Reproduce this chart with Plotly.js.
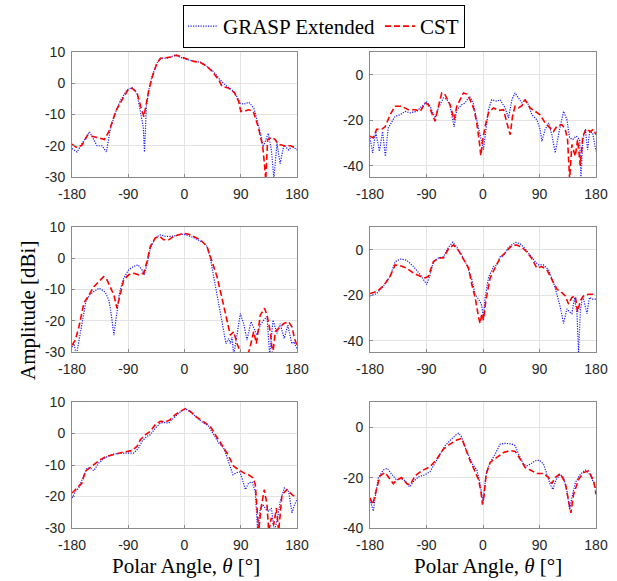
<!DOCTYPE html>
<html>
<head>
<meta charset="utf-8">
<script src="https://cdn.plot.ly/plotly-3.0.1.min.js"></script>
<style>html,body{margin:0;padding:0;background:#fff}#chart{width:617px;height:581px}</style>
</head>
<body>
<div id="chart"></div>
<script>
// ---------- Data (angles in degrees, amplitude in dBi) ----------
// Top-left
const tlGraspX = [-180,-172,-164,-152,-140,-132,-125,-119,-111,-103,-92,-84,-76,-71,-66,-64,-61,-57,-52,-44,-39,-28,-15,-1,15,25,36,47,57,65,76,84,89,95,103,111,119,126,134,139,143,148,153,159,167,172,180];
const tlGraspY = [-20.9,-22,-19.3,-15.5,-20,-20,-22,-15,-9.6,-5.7,-2.1,-1.4,-3.2,-8.5,-14,-22,-7.5,-2.1,2.2,6.5,8,8,9,7.9,7,6.8,5.4,3.6,1.1,-0.5,-2.1,-4.3,-6.4,-6.7,-6.1,-8,-14,-20.3,-16,-21.4,-30.5,-19.3,-25.7,-19.8,-21.4,-20,-21.4];
const tlCstX = [-180,-172,-164,-155,-145,-135,-128,-120,-110,-100,-90,-84,-76,-70,-65,-62,-57,-50,-44,-38,-30,-20,-13,0,15,25,36,46,55,60,70,80,87,90,95,102,110,118,125,128,130,133,140,145,150,160,170,180];
const tlCstY = [-19.5,-20.6,-19.8,-16.6,-17.1,-17.7,-18,-15,-9,-5.3,-2,-1.6,-3,-7.5,-10.7,-7.5,-2,3,6.5,8,8.2,8.4,9,8,7,6.7,5.4,3.4,1,-1,-1.5,-3,-6,-9,-9,-8.5,-9,-14,-20,-26,-31,-18,-17.3,-18,-19.5,-20,-20,-21];

// Top-right
const trGraspX = [-180,-175.7,-171,-165,-160,-155.5,-151,-140,-132,-124,-116,-105.6,-97.6,-89.6,-84.3,-76.3,-71,-63,-57.7,-52.4,-46,-41.8,-33.8,-28.5,-21.6,-16.3,-10,-5.6,-1.9,0.7,4,8.7,14,22,27.3,35.3,40.6,46,51,56.6,62,67,72.5,77.8,85.8,91,93.8,99,104.4,109.7,115,122,128.4,133.7,138,143,148.5,154,156,159,163,166.6,170,174.6,180];
const trGraspY = [-27.8,-34.4,-25,-33.7,-25,-35.9,-23.4,-18.3,-17.6,-16.1,-16.8,-16.1,-13.9,-12,-13.9,-19,-14.6,-10.2,-10.7,-13.9,-23,-15.4,-13.2,-12.4,-9.5,-11.7,-19.8,-25,-28.5,-33,-25.6,-15.4,-11,-11.7,-11,-14.6,-19,-11,-8,-10.2,-12.4,-11,-13.2,-17.6,-19.8,-24,-29.3,-24,-21.2,-26.4,-34.4,-24,-16.1,-19.8,-27.8,-28.5,-27,-28.5,-46,-28.5,-24,-33,-25,-25.6,-33.7];
const trCstX = [-180,-174.7,-169.4,-161,-156,-148,-140,-129.5,-118.9,-108,-100,-92.3,-87,-81.6,-76.3,-71,-65.7,-60.4,-52.4,-46,-41.8,-36.5,-31.1,-25.8,-20.5,-14.1,-10,-5.6,-3.5,-0.3,3.4,8.7,16.7,24.7,32.7,38,43.3,47,51,56.6,62,67,75,83,91,99,107,112.3,117.6,125.6,131,134.7,138,141.6,147,150.7,155,159,164.5,171,176,180];
const trCstY = [-27,-27.8,-24,-23.9,-23,-17.6,-13.9,-13.9,-15.4,-15.4,-16.1,-12.4,-13.2,-16.8,-20.5,-13.9,-8,-8.8,-13.2,-19.8,-13.9,-11,-8,-8.5,-11,-15.4,-21.2,-30,-35.6,-28.5,-22.7,-16.8,-14.6,-15.7,-15.4,-21.2,-26.4,-18.3,-13.9,-14.6,-13.6,-11,-14.6,-16.1,-17.6,-21.2,-23.4,-25,-22.7,-22,-24,-28.5,-46,-30.7,-35.9,-28.5,-40,-27,-23.9,-25,-24,-26.4];

// Middle-left
const mlGraspX = [-180,-177,-173,-169,-164,-157.6,-150.7,-142.7,-137.3,-132,-126.7,-121,-117,-113,-109,-103.7,-97.3,-89.3,-81.3,-74.4,-68,-64.3,-60,-54.7,-46.7,-38.7,-30.7,-20,-9.3,-1.3,9.3,20,30.7,36,41.3,46.7,52,57.3,62.7,66.4,70.7,73.3,76,78.7,84,89.3,94.7,100,106.4,110.7,116,121.3,126.7,132,136.3,141.6,148,153,159.5,165.3,171.7,175.5,180];
const mlGraspY = [-28.4,-27.3,-31,-26.8,-20.3,-13.7,-11.5,-10.5,-9.6,-10.1,-10.9,-13.4,-18.2,-24.6,-19.3,-10.7,-6.4,-3.7,-2.6,-2.1,-3.7,-5.3,-2.1,3.2,6.5,7.5,7,7,7.5,7.7,7,6.1,4.9,3.8,0,-5.9,-11.2,-17.1,-23.5,-27.3,-25.7,-27.3,-25.2,-31,-24.6,-17.7,-20.9,-26.2,-20.3,-22.5,-24.6,-21.4,-19.8,-18.7,-31,-19.8,-24,-20.9,-25.7,-21.4,-27.3,-26.8,-29];
const mlCstX = [-180,-174.7,-169,-161,-153,-145,-137.3,-129.3,-124,-119,-113,-108,-103.7,-97.3,-89.3,-81.3,-73.3,-65.3,-60,-54.7,-46.7,-39.7,-33.3,-25.3,-17.3,-6.7,-1.3,6.7,14.7,25.3,36,44,52,60,68,73.3,78.7,84,89.3,97.3,104.3,110.7,115,121.3,128,132,137.3,141,145.3,150.7,158.7,166.7,172,176,180];
const mlCstY = [-27.8,-26.2,-22,-14.4,-11.8,-9.1,-7.5,-5.9,-6.9,-9.1,-11.8,-16,-12.3,-6.9,-5.3,-4.8,-5.3,-4.8,-1,3.8,6.5,7,5.9,5.9,7,7.7,8,7.7,7,5.9,3.8,-1,-5.9,-12.8,-19.3,-24.6,-23.5,-27.3,-30,-33,-29,-23.5,-27.3,-18.2,-16,-18.2,-23.5,-31,-23.5,-22.5,-20.9,-20.3,-22,-25.7,-27.8];

// Middle-right
const mrGraspX = [-180,-169.4,-158.7,-148,-140,-132,-121.5,-110.8,-100,-92.3,-89.6,-84.3,-79,-71,-63,-55,-48.1,-41.8,-33.8,-25.8,-17.8,-12.5,-5.6,-1.9,0.8,3.4,8.7,16.7,22,27.3,32.7,40.6,51.3,59.3,67.2,75.2,83.2,88.6,96.5,104.5,112.5,117.8,123.1,128.4,133.7,138,141.6,145.9,149.7,152.3,155,158.8,163,165.7,169.4,173.7,180];
const mrGraspY = [-20.3,-19.3,-16,-11.7,-5.3,-4.1,-4.6,-7.4,-11,-14.6,-15.3,-11,-5.3,-3.6,-3.1,1.1,3.3,1.1,-2.4,-6.7,-13.1,-19.6,-22.4,-24.6,-30.3,-21,-12.4,-7.4,-6.7,-3.1,-2.7,1.1,3.3,2.6,0.4,-2.4,-5.3,-6.7,-6.7,-8.9,-14.6,-19.6,-25.3,-32.4,-26,-27.4,-28.1,-21,-28.1,-46,-26.7,-20.3,-24.6,-28.1,-21,-21.7,-21.7];
const mrCstX = [-180,-169.4,-158.7,-148,-140,-132,-121.5,-110.8,-100,-92.3,-87,-79,-71,-63,-55,-47,-39,-31,-23,-17.8,-12.5,-7.2,-4.6,-1.9,0.8,4.5,11.4,19.3,27.3,35.3,45.9,53.9,61.9,69.8,77.8,85.8,93.8,101.8,109.7,117.8,125.7,131,136.3,141.6,147,150.7,155,160.3,168.3,180];
const mrCstY = [-19.3,-18.4,-16,-11.7,-6.7,-7,-8.1,-10.3,-11.7,-12.4,-11.7,-5.3,-3.6,-3.6,0.4,2.1,-0.3,-3.9,-8.1,-15.3,-21,-29.6,-32.4,-28.1,-31,-22.4,-12.4,-7.9,-3.6,-1.3,1.9,2.1,1.1,-1,-3.9,-8.1,-7.4,-8.9,-13.1,-17.4,-18.9,-20.3,-23.9,-21,-20.3,-27.4,-22.4,-20.3,-19.6,-19.6];

// Bottom-left
const blGraspX = [-180,-174.7,-169.3,-164,-156,-150.7,-145.3,-137.3,-126.7,-113.3,-97.3,-81.3,-73.3,-68,-60,-54.7,-46.7,-38.7,-33.3,-25.3,-17.3,-9.3,-1.3,4,12,20,30.7,38.7,46.7,54.7,62.7,68,73.3,77.6,82.9,88.3,92,97.3,102.7,108,113.3,117,121.3,125.6,131,134.7,139,143.7,149,153.3,159.7,166.7,172,176,180];
const blGraspY = [-20.5,-18.4,-17.3,-14.7,-11,-11,-11.8,-9.4,-7.6,-6.5,-6.2,-6.2,-4.6,-2.5,-0.9,-0.4,1.7,3.3,3.5,3.3,4.9,6.5,7.6,7.6,6.5,4.9,3.3,2.3,-0.4,-3,-4.6,-7.8,-10.4,-13.1,-12.5,-12.2,-14.1,-17.8,-15.7,-15.4,-18.4,-31,-23.7,-22.6,-24.2,-24.7,-23.7,-31,-26.8,-21.5,-17.3,-18.4,-25.2,-22.6,-21];
const blCstX = [-180,-172,-164,-158.7,-150.7,-142.7,-134.7,-124,-110.7,-97.3,-84,-76,-70.7,-62.7,-54.7,-46.7,-38.7,-30.7,-22.7,-14.7,-6.7,1.3,9.3,20,30.7,41.3,49.3,60,68,73.3,78.7,86.7,94.7,102.7,109.6,113.3,118.7,122.4,127.7,132,134.7,139,142.7,147,150.7,156,164,172,180];
const blCstY = [-18.9,-17.3,-15.7,-12,-10.7,-9.4,-8.3,-7.2,-6.5,-5.9,-5.4,-4.1,-2,-0.4,0.7,2.8,3.9,3.7,4.4,6,7,7.9,7,5.1,3.7,2.3,-0.4,-3.5,-6.2,-8.3,-10.4,-11.5,-12.5,-13.1,-14.1,-16.2,-31,-23.7,-17.8,-22.6,-31,-26.8,-29,-23.7,-31,-19.4,-17.8,-19.4,-20.5];

// Bottom-right
const brGraspX = [-180,-177,-174.7,-171,-166.7,-158.7,-152.4,-145.4,-137.5,-131,-124,-117,-110.9,-102.9,-92.3,-84.3,-76.3,-68.3,-60.4,-52.4,-44.4,-39,-33.8,-28.5,-23.2,-16.2,-9.8,-5.6,-1.9,0.2,2.3,6,11.4,19.3,27.3,35.3,45.9,51.3,56.6,64.5,69.8,75.2,83.2,90,96.5,101.8,107,111.4,116.7,123,128.4,133.7,138,141.6,147,155,163,170,176.3,180];
const brGraspY = [-28.7,-31.3,-33.3,-26.7,-20,-17,-16.3,-18.7,-21,-20.3,-21.3,-23.7,-21.6,-19.7,-18.9,-17.6,-14,-10.7,-7.3,-5.3,-3.3,-2.4,-4,-8,-11.3,-14.9,-17,-21.3,-26.7,-30,-24,-17.3,-14,-10.7,-6.7,-6.4,-6.7,-7.3,-10.7,-14.7,-15.3,-14.7,-13.3,-13.1,-14.7,-18.7,-22.7,-24.7,-20.7,-18.7,-20,-25.3,-32.7,-28,-22,-18.7,-17,-18.7,-22,-24.7];
const brCstX = [-180,-175.7,-171,-164,-156,-148,-142.8,-137.5,-129.5,-121.5,-116,-108.2,-97.6,-84.3,-73.7,-63,-52.4,-41.8,-33.8,-28.5,-20.5,-12.5,-7.2,-3.5,-0.8,1.9,5,11.4,22,32.7,43.3,51.3,59.3,67.2,75.2,85.8,96.5,104.5,109.7,115,123,131,136.3,140,144.3,152.3,160.3,168.3,176.3,180];
const brCstY = [-28,-30.7,-26,-19.3,-18,-20.7,-22.4,-21,-20,-22.4,-22.9,-19.3,-17.3,-15.7,-12.7,-8.7,-6.7,-5.1,-4.4,-8,-13.3,-17.6,-20.7,-25.3,-30.7,-26.7,-18.7,-14,-12,-10,-9.3,-9.6,-12.7,-16,-17,-18.4,-18.4,-20,-22.4,-20,-18.4,-22,-29.3,-34,-26.7,-20.7,-18,-17.3,-21.3,-26.7];

const xTicks = [-180, -90, 0, 90, 180];
const seriesNames = ['GRASP Extended', 'CST'];

// ---------- Build traces ----------
const panels = [
  {g: [tlGraspX, tlGraspY], c: [tlCstX, tlCstY]},
  {g: [trGraspX, trGraspY], c: [trCstX, trCstY]},
  {g: [mlGraspX, mlGraspY], c: [mlCstX, mlCstY]},
  {g: [mrGraspX, mrGraspY], c: [mrCstX, mrCstY]},
  {g: [blGraspX, blGraspY], c: [blCstX, blCstY]},
  {g: [brGraspX, brGraspY], c: [brCstX, brCstY]}
];
const traces = [];
panels.forEach((p, i) => {
  const suf = i === 0 ? '' : String(i + 1);
  traces.push({
    x: p.g[0], y: p.g[1], type: 'scatter', mode: 'lines',
    name: seriesNames[0], legendgroup: 'g', showlegend: i === 0,
    xaxis: 'x' + suf, yaxis: 'y' + suf,
    line: {color: '#1a1aff', width: 1.2, dash: '1.2px,1.3px'}
  });
  traces.push({
    x: p.c[0], y: p.c[1], type: 'scatter', mode: 'lines',
    name: seriesNames[1], legendgroup: 'c', showlegend: i === 0,
    xaxis: 'x' + suf, yaxis: 'y' + suf,
    line: {color: '#ff0000', width: 1.6, dash: '6px,3px'}
  });
});

// ---------- Layout ----------
const W = 617, H = 581;
const colDom = [[72 / W, 297 / W], [370 / W, 596 / W]];
const rowDom = [[1 - 177 / H, 1 - 52 / H], [1 - 352 / H, 1 - 227 / H], [1 - 528 / H, 1 - 402 / H]];
const yRanges = [[-30, 10], [-45, 10], [-30, 10], [-45, 10], [-30, 10], [-40, 10]];
const yTicks = [[10, 0, -10, -20, -30], [0, -20, -40], [10, 0, -10, -20, -30], [0, -20, -40], [10, 0, -10, -20, -30], [0, -20, -40]];

const tickFont = {family: 'Liberation Sans, Arial, sans-serif', size: 14, color: '#262626'};
const axisBase = {
  showline: true, mirror: true, linecolor: '#8a8a8a', linewidth: 1,
  showgrid: true, gridcolor: '#e3e3e3', gridwidth: 1, zeroline: false,
  ticks: 'inside', ticklen: 3, tickcolor: '#8a8a8a', tickfont: tickFont, fixedrange: true
};
const serif = 'Liberation Serif, DejaVu Serif, serif';

const layout = {
  width: W, height: H,
  margin: {l: 0, r: 0, t: 0, b: 0},
  paper_bgcolor: '#fff', plot_bgcolor: '#fff',
  showlegend: true,
  legend: {
    orientation: 'h', x: 324 / W, xanchor: 'center', y: 1 - 5 / H, yanchor: 'top',
    bordercolor: '#000', borderwidth: 1, bgcolor: '#fff',
    font: {family: serif, size: 21, color: '#000'},
    itemwidth: 30, tracegroupgap: 0
  },
  annotations: [
    {text: 'Amplitude [dBi]', xref: 'paper', yref: 'paper', x: 28 / W, y: 1 - 311 / H,
     textangle: -90, showarrow: false, xanchor: 'center', yanchor: 'middle',
     font: {family: serif, size: 21, color: '#000'}},
    {text: 'Polar Angle, <i>θ</i> [°]', xref: 'paper', yref: 'paper', x: 186 / W, y: 1 - 566 / H,
     showarrow: false, xanchor: 'center', yanchor: 'middle',
     font: {family: serif, size: 21, color: '#000'}},
    {text: 'Polar Angle, <i>θ</i> [°]', xref: 'paper', yref: 'paper', x: 488 / W, y: 1 - 566 / H,
     showarrow: false, xanchor: 'center', yanchor: 'middle',
     font: {family: serif, size: 21, color: '#000'}}
  ]
};

for (let i = 0; i < 6; i++) {
  const suf = i === 0 ? '' : String(i + 1);
  const col = i % 2, row = Math.floor(i / 2);
  layout['xaxis' + suf] = Object.assign({}, axisBase, {
    domain: colDom[col], anchor: 'y' + suf, range: [-180, 180],
    tickmode: 'array', tickvals: xTicks, ticktext: xTicks.map(String),
    ticklabelstandoff: 4
  });
  layout['yaxis' + suf] = Object.assign({}, axisBase, {
    domain: rowDom[row], anchor: 'x' + suf, range: yRanges[i],
    tickmode: 'array', tickvals: yTicks[i], ticktext: yTicks[i].map(String),
    ticklabelstandoff: 3
  });
}

Plotly.newPlot('chart', traces, layout, {displayModeBar: false, staticPlot: true});
</script>
</body>
</html>
